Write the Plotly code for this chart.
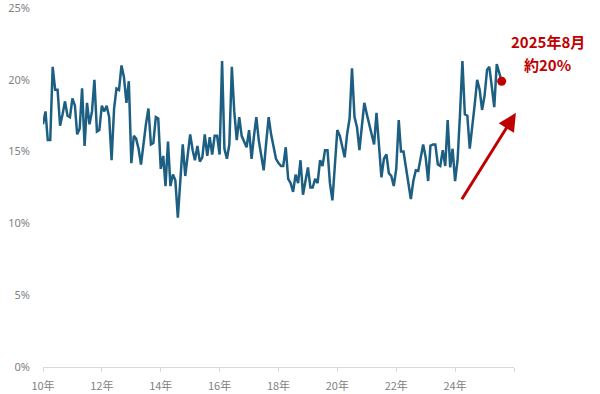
import pandas as pd
import plotly.graph_objects as go

# Monthly share (%) Jan 2010 - Aug 2025
y2010 = [16.9, 17.8, 15.8, 15.8, 20.9, 19.3, 19.3, 16.8, 17.6, 18.5, 17.5, 17.4]
y2011 = [18.7, 18.2, 16.2, 16.6, 19.4, 15.4, 18.4, 16.9, 17.8, 20.0, 16.4, 16.5]
y2012 = [18.2, 17.8, 18.2, 17.4, 14.4, 18.0, 19.4, 19.3, 21.0, 20.2, 18.4, 19.9]
y2013 = [14.2, 16.1, 15.9, 15.2, 14.1, 15.7, 16.9, 18.0, 15.5, 15.6, 17.4, 17.3]
y2014 = [13.8, 14.7, 12.6, 15.7, 12.6, 13.4, 13.0, 10.4, 13.0, 15.5, 13.3, 14.8]
y2015 = [16.2, 15.1, 14.4, 15.4, 14.3, 14.6, 16.2, 14.7, 16.0, 14.8, 16.1, 16.1]
y2016 = [14.8, 21.3, 15.2, 14.5, 15.5, 20.9, 17.8, 15.8, 17.4, 16.1, 15.7, 15.3]
y2017 = [16.5, 14.5, 16.0, 17.4, 15.8, 14.6, 13.7, 15.6, 17.4, 16.2, 15.2, 14.5]
y2018 = [14.2, 14.0, 14.0, 15.3, 13.1, 12.8, 12.2, 13.4, 12.8, 14.4, 12.0, 13.0]
y2019 = [13.9, 12.5, 12.5, 13.1, 12.8, 14.4, 14.0, 15.1, 15.1, 12.8, 11.6, 14.0]
y2020 = [16.5, 16.1, 15.4, 14.6, 16.2, 17.3, 20.8, 17.4, 16.7, 15.1, 16.8, 18.4]
y2021 = [17.6, 16.9, 16.3, 15.5, 17.7, 15.4, 13.2, 14.5, 14.8, 13.5, 13.3, 12.6]
y2022 = [13.8, 17.2, 15.0, 15.0, 13.9, 12.8, 11.7, 12.95, 13.7, 13.65, 14.6, 15.5]
y2023 = [14.6, 12.95, 15.4, 15.5, 15.5, 14.1, 14.0, 15.1, 14.0, 17.2, 13.9, 15.2]
y2024 = [12.95, 14.4, 17.5, 21.3, 17.6, 17.5, 15.2, 16.6, 18.3, 20.0, 19.3, 17.9]
y2025 = [18.9, 20.7, 20.9, 19.5, 18.1, 21.1, 20.5, 19.9]

values = (y2010 + y2011 + y2012 + y2013 + y2014 + y2015 + y2016 + y2017 +
          y2018 + y2019 + y2020 + y2021 + y2022 + y2023 + y2024 + y2025)
dates = pd.date_range("2010-01-01", periods=len(values), freq="MS")

tick_dates = ["2010-01-01", "2012-01-01", "2014-01-01", "2016-01-01", "2018-01-01",
              "2020-01-01", "2022-01-01", "2024-01-01", "2026-01-01"]
tick_labels = ["10年", "12年", "14年", "16年", "18年", "20年", "22年", "24年", ""]
y_ticks = [0, 5, 10, 15, 20, 25]
y_labels = ["0%", "5%", "10%", "15%", "20%", "25%"]

LINE = "#1d5f82"
RED = "#c00000"
FONT = "Noto Sans CJK JP"

fig = go.Figure()
fig.add_trace(go.Scatter(x=dates, y=values, mode="lines",
                         line=dict(color=LINE, width=2.5), hoverinfo="skip"))
fig.add_trace(go.Scatter(x=[dates[-1]], y=[values[-1]], mode="markers",
                         marker=dict(color=RED, size=9), hoverinfo="skip"))

fig.add_annotation(xref="paper", yref="paper", x=1.072, y=0.906,
                   xanchor="center", yanchor="middle",
                   text="<b>2025年8月</b>", showarrow=False,
                   font=dict(family=FONT, size=15, color=RED))
fig.add_annotation(xref="paper", yref="paper", x=1.072, y=0.843,
                   xanchor="center", yanchor="middle",
                   text="<b>約20%</b>", showarrow=False,
                   font=dict(family=FONT, size=15, color=RED))
fig.add_annotation(xref="paper", yref="paper", x=1.004, y=0.708,
                   ax=-55, ay=88, text="", showarrow=True,
                   arrowhead=2, arrowsize=1.2, arrowwidth=3, arrowcolor=RED)

fig.update_layout(
    width=600, height=394,
    margin=dict(l=43, r=86, t=8, b=27),
    plot_bgcolor="white", paper_bgcolor="white",
    showlegend=False,
    font=dict(family=FONT, size=11, color="#7f7f7f"),
    xaxis=dict(type="date", range=["2010-01-01", "2026-01-01"],
               tickvals=tick_dates, ticktext=tick_labels,
               showgrid=False, zeroline=False, automargin=False,
               showline=True, linecolor="#d9d9d9", linewidth=1,
               ticks="outside", ticklen=4, tickcolor="#d9d9d9",
               ticklabelstandoff=5,
               tickfont=dict(family=FONT, size=11, color="#7f7f7f")),
    yaxis=dict(range=[0, 25], tickvals=y_ticks, ticktext=y_labels,
               showgrid=False, zeroline=False, showline=False, automargin=False,
               ticks="", ticklabelstandoff=12, ticklabeloverflow="allow",
               tickfont=dict(family="Noto Sans", size=11, color="#7f7f7f")),
)

fig.write_html("out.html")
